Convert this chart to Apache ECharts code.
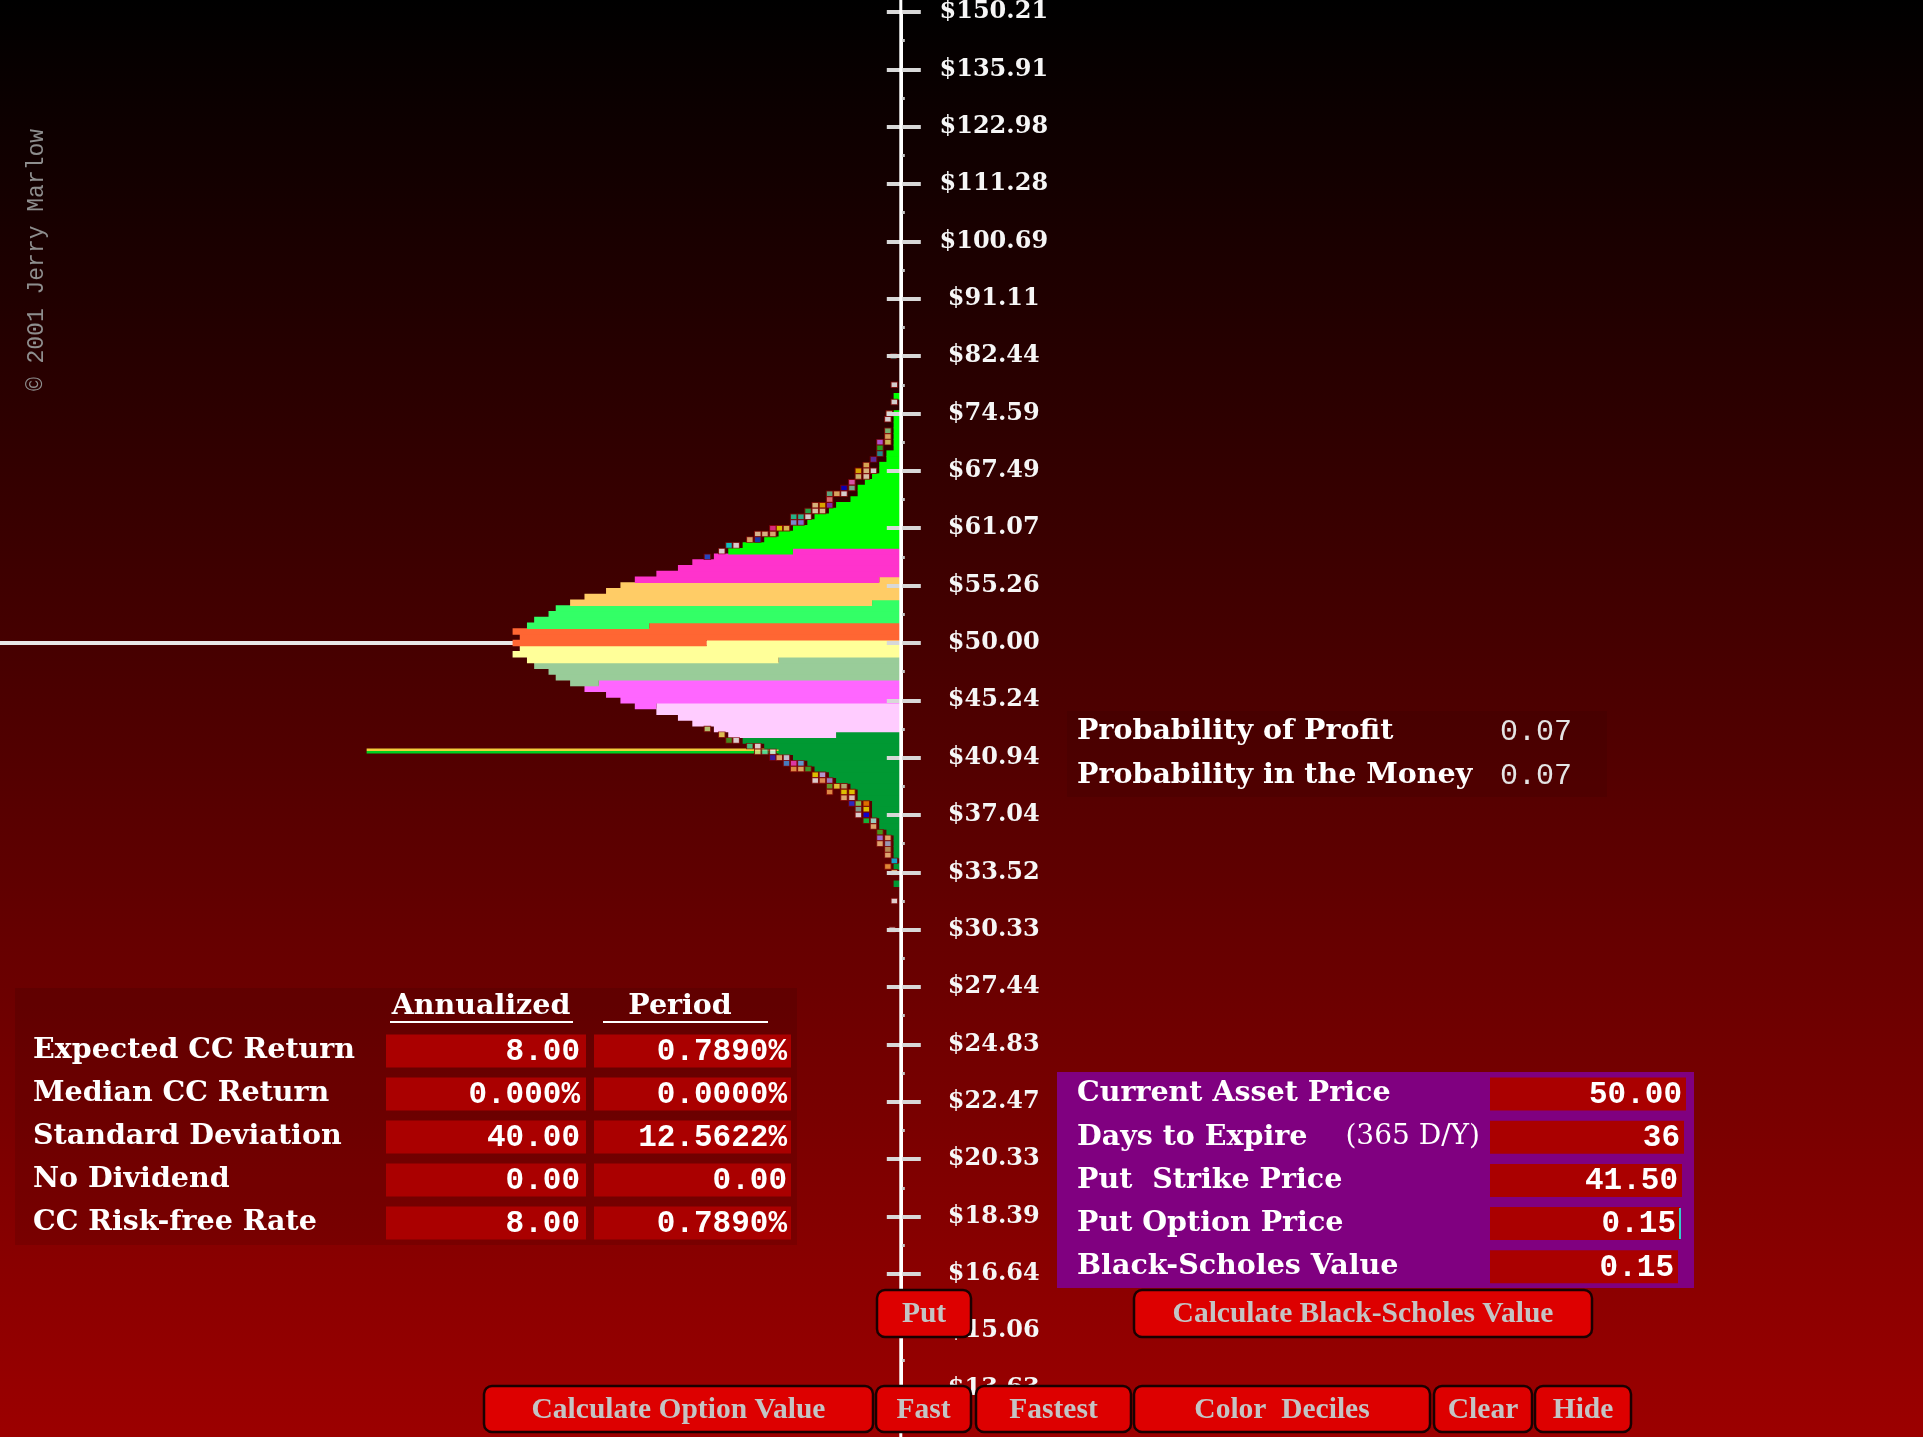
<!DOCTYPE html>
<html>
<head>
<meta charset="utf-8">
<title>Put option - lognormal price distribution</title>
<script src="https://cdn.jsdelivr.net/npm/echarts@6/dist/echarts.min.js"></script>
<style>
html,body{margin:0;padding:0;background:#000;overflow:hidden}
#chart{width:1923px;height:1437px}
</style>
</head>
<body>
<div id="chart"></div>
<script>
// ================= data =================
const spotPrice = 50.00;
const strikePrice = 41.50;
const axisMinReturn = -1.3;          // log-return range of the labelled price axis
const axisMaxReturn = 1.1;
const axisLineMin = -1.5;            // the axis line itself runs past the labelled range
const axisLineMax = 1.2;
const tickStep = 0.1;
const tickLabelStart = -1.3;
const tickLabels = ['$13.63','$15.06','$16.64','$18.39','$20.33','$22.47','$24.83','$27.44',
  '$30.33','$33.52','$37.04','$40.94','$45.24','$50.00','$55.26','$61.07','$67.49','$74.59',
  '$82.44','$91.11','$100.69','$111.28','$122.98','$135.91','$150.21'];

const binStep = 0.01;                // one histogram row = 0.01 of log-return
// bar lengths (count units) for rows k = 0,1,2,... above $50
const upperBins = [54,53,54,52,51,49,48,46,44,41,39,37,34,31,29,26,24,22,19,17,15,13,12,10,9,7,
  6,6,5,4,3,3,2,2,1,1,1,1,1,1,1,0,0,1];
// bar lengths for rows k = -1,-2,-3,... below $50
const lowerBins = [53,54,52,51,49,48,46,44,41,39,37,34,31,29,26,24,22,19,17,15,13,12,10,9,7,
  6,6,4,4,4,3,3,2,1,1,1,1,0,1,0,0,1];
const decileNames = ['Decile 1','Decile 2','Decile 3','Decile 4','Decile 5','Decile 6','Decile 7','Decile 8','Decile 9','Decile 10'];
const decileColors = ['#009933','#ffccff','#ff66ff','#99cc99','#ffff99','#ff6633','#33ff66','#ffcc66','#ff33cc','#00ff00'];
// [row k where two deciles meet, units of the lower decile in that row]
const decileSplits = [[-16,9],[-11,34],[-7,42],[-3,17],[0,27],[3,35],[7,4],[11,3],[16,15]];

// individual sample squares in the tails: [count position, row k]
const tailMarkers = [
  [0.9,45],[0.9,42],[1.6,40],[1.8,39],[1.8,37],[1.8,36],[1.8,35],[2.9,35],[2.9,34],[2.9,33],
  [3.8,32],[3.8,30],[4.8,31],[4.8,30],[4.8,29],[5.9,30],[5.9,29],[6.8,28],[6.8,27],[7.9,27],
  [7.9,26],[8.9,26],[9.9,26],[9.9,25],[9.9,24],[10.9,24],[11.9,24],[10.9,23],[11.9,23],[12.9,23],
  [12.9,22],[13.9,22],[14.9,22],[13.9,21],[14.9,21],[15.9,20],[16.9,20],[17.8,20],[17.8,19],[18.9,19],
  [19.9,19],[19.9,18],[21.0,18],[22.9,17],[23.9,17],[24.9,16],[26.9,15],[1.0,50],
  [26.9,-15],[24.9,-16],[23.9,-17],[22.9,-17],[21.0,-18],[19.9,-18],[19.9,-19],[18.9,-19],[17.8,-19],
  [17.8,-20],[16.9,-20],[15.9,-20],[15.9,-21],[14.9,-21],[13.9,-21],[14.9,-22],[13.9,-22],[12.9,-22],
  [11.9,-23],[10.9,-23],[11.9,-24],[10.9,-24],[9.9,-24],[9.9,-25],[8.9,-25],[7.9,-25],[9.9,-26],
  [7.9,-26],[6.8,-26],[7.9,-27],[6.8,-27],[6.8,-28],[5.9,-28],[4.8,-28],[4.8,-29],[5.9,-29],
  [4.8,-30],[5.9,-30],[3.8,-31],[4.8,-31],[3.8,-32],[2.9,-33],[2.9,-34],[1.8,-34],[2.9,-35],
  [1.8,-35],[1.8,-36],[1.8,-37],[0.9,-38],[1.8,-39],[0.9,-40],[0.9,-45],[1.2,-50]
];
const tailMarkerColors = [
  '#ffffff','#ffffff','#ffe8c0','#ffffff','#88dd88','#ffcc77','#eedd66','#cc66ff','#22cc22','#22aaaa',
  '#6633bb','#ffffff','#ffcc66','#ffdd99','#ffeecc','#ffcc00','#eedd88','#ff66cc','#88ccaa','#0000dd',
  '#ffffff','#ffcc77','#66cc99','#ff8888','#9933cc','#ffcc00','#ffdd99','#ffe0b0','#fff0d0','#22cc55',
  '#ffffff','#22ddaa','#22ddaa','#8888ff','#88aaff','#ffdd66','#ffee00','#ff3399','#ffcc88','#ffd8a0',
  '#ffe0b0','#1144cc','#ffcc88','#ffffff','#00eeee','#ffffff','#2255ee','#33cccc',
  '#ccee88','#ffee66','#44aa22','#ffffff','#44ee99','#ffffff','#eedd88','#66ddaa','#eeeeee',
  '#3322cc','#ffcc88','#ddeeff','#4499ee','#ff44cc','#66bbff','#ffaa55','#ffcc77','#33bb33',
  '#ffee00','#ccbbff','#ffffff','#ffaa66','#aa99ee','#66bb33','#ffee44','#cccc88','#ffaa55',
  '#ffee00','#ffee00','#ffcc88','#ffeedd','#2233ee','#88ee66','#ff8800','#ffee00','#88bbaa',
  '#0000ff','#ffffff','#aaffee','#00dd44','#ffcc88','#44bb22','#aa88ff','#ffcc88','#ffcc88',
  '#aabbdd','#ccaa66','#ffcc88','#00ccff','#ffaa44','#ffcc88','#ffffff','#dddddd'
];
const countMax = 125.3;              // count units across the plot width
const strikeLineFrom = 74.3;         // count units where the strike line starts / ends
const strikeLineTo = -2.3;

const tableHeaders = ['Annualized', 'Period'];
const tableRows = [
  ['Expected CC Return', '8.00', '0.7890%'],
  ['Median CC Return', '0.000%', '0.0000%'],
  ['Standard Deviation', '40.00', '12.5622%'],
  ['No Dividend', '0.00', '0.00'],
  ['CC Risk-free Rate', '8.00', '0.7890%']
];
const probabilityRows = [['Probability of Profit', '0.07'], ['Probability in the Money', '0.07']];
const inputRows = [
  ['Current Asset Price', '', '50.00'],
  ['Days to Expire', '(365 D/Y)', '36'],
  ['Put  Strike Price', '', '41.50'],
  ['Put Option Price', '', '0.15'],
  ['Black-Scholes Value', '', '0.15']
];
const buttonLabels = ['Put', 'Calculate Black-Scholes Value', 'Calculate Option Value', 'Fast',
  'Fastest', 'Color  Deciles', 'Clear', 'Hide'];
const copyrightText = '\u00A9 2001 Jerry Marlow';

// ================= build series data =================
const kMin = Math.round(axisMinReturn / binStep);
const kMax = Math.round(axisMaxReturn / binStep);
const rowKeys = [];
for (let k = kMin; k <= kMax; k++) rowKeys.push(String(k));
function rowTotal(k) {
  if (k >= 0) return upperBins[k] || 0;
  return lowerBins[-k - 1] || 0;
}
const decileData = decileColors.map(() => rowKeys.map(() => null));
rowKeys.forEach((key, i) => {
  const k = kMin + i;
  const total = rowTotal(k);
  if (!total) return;
  const b = decileSplits.findIndex(s => s[0] === k);
  if (b >= 0) {
    const low = Math.min(decileSplits[b][1], total);
    decileData[b][i] = low;
    decileData[b + 1][i] = total - low;
  } else {
    let d = 0;
    decileSplits.forEach(s => { if (k > s[0]) d++; });
    decileData[d][i] = total;
  }
});
const strikeReturn = Math.log(strikePrice / spotPrice);

const series = decileColors.map((c, d) => ({
  name: decileNames[d], type: 'bar', stack: 'hist', xAxisIndex: 0, yAxisIndex: 2,
  data: decileData[d], barWidth: 6.5, silent: true, z: 3, large: false,
  itemStyle: { color: c, borderWidth: 0 }
}));
series.push({
  name: 'Axis line', type: 'line', xAxisIndex: 0, yAxisIndex: 0, z: 9, silent: true, clip: false,
  symbol: 'none', data: [[0, axisLineMax], [0, axisLineMin]],
  lineStyle: { color: '#ffffff', width: 3 }
});
series.push({
  name: 'Current price', type: 'line', xAxisIndex: 0, yAxisIndex: 0, z: 1, silent: true,
  symbol: 'none', data: [[countMax, 0], [0, 0]],
  lineStyle: { color: '#e8e8e8', width: 4 }
});
series.push({
  name: 'Strike', type: 'line', xAxisIndex: 0, yAxisIndex: 0, z: 1, silent: true, clip: false,
  symbol: 'none', data: [[strikeLineFrom, strikeReturn], [strikeLineTo, strikeReturn]],
  lineStyle: { color: '#f2cc3a', width: 2.5, shadowColor: '#00d020', shadowBlur: 0, shadowOffsetY: 2.5 }
});
series.push({
  name: 'Samples', type: 'scatter', xAxisIndex: 0, yAxisIndex: 0, z: 4, silent: true,
  symbol: 'rect', symbolSize: [6.5, 5.5],
  data: tailMarkers.map(m => [m[0], m[1] * binStep]),
  itemStyle: { color: p => tailMarkerColors[p.dataIndex], borderColor: '#7a0000', borderWidth: 1 }
});

// ================= page furniture (graphic) =================
const F_LBL = 'bold 28.5px "DejaVu Serif"';
const F_REG = '28px "DejaVu Serif"';
const F_VAL = 'bold 31px "Liberation Mono"';
const F_PVAL = '30px "Liberation Mono"';
const F_BTN = 'bold 29.5px "Liberation Serif"';
const F_CPY = '23px "Liberation Mono"';
function txt(text, x, y, font, fill, align, extra) {
  return Object.assign({
    type: 'text', x: x, y: y, z: 120, silent: true,
    style: { text: text, font: font, fill: fill, textAlign: align || 'left', align: align || 'left',
      textVerticalAlign: 'middle', verticalAlign: 'middle' }
  }, extra || {});
}
function rect(x, y, w, h, fill, z, r, stroke, lw) {
  return { type: 'rect', z: z || 110, silent: true, shape: { x: x, y: y, width: w, height: h, r: r || 0 },
    style: { fill: fill, stroke: stroke || null, lineWidth: lw || 0 } };
}
const G = [];
// copyright
G.push(txt(copyrightText, 37, 260, F_CPY, '#8e8e8e', 'center', { rotation: Math.PI / 2 }));
// left table
G.push(rect(15, 988, 782, 257, 'rgba(0,0,0,0.10)', 105));
G.push(txt(tableHeaders[0], 481, 1007, F_LBL, '#ffffff', 'center'));
G.push(txt(tableHeaders[1], 680, 1007, F_LBL, '#ffffff', 'center'));
G.push(rect(390, 1021, 183, 2, '#ffffff', 121));
G.push(rect(603, 1021, 165, 2, '#ffffff', 121));
tableRows.forEach((row, i) => {
  const y = 1051 + i * 43;
  G.push(rect(386, y - 16.5, 200, 33, '#aa0000', 111));
  G.push(rect(594, y - 16.5, 197, 33, '#aa0000', 111));
  G.push(txt(row[0], 33, y, F_LBL, '#ffffff', 'left'));
  G.push(txt(row[1], 580, y + 1, F_VAL, '#ffffff', 'right'));
  G.push(txt(row[2], 787, y + 1, F_VAL, '#ffffff', 'right'));
});
// probability box
G.push(rect(1067, 711, 540, 86, 'rgba(0,0,0,0.07)', 105));
probabilityRows.forEach((row, i) => {
  const y = 732 + i * 44;
  G.push(txt(row[0], 1077, y, F_LBL, '#ffffff', 'left'));
  G.push(txt(row[1], 1500, y, F_PVAL, '#e4e4e4', 'left'));
});
// purple input box
G.push(rect(1057, 1072, 637, 216, '#800080', 108));
inputRows.forEach((row, i) => {
  const y = 1094 + i * 43.2;
  G.push(rect(1490, y - 16.5, 196 - i * 2, 33, '#aa0000', 111));
  G.push(txt(row[0], 1077, y, F_LBL, '#ffffff', 'left'));
  if (row[1]) G.push(txt(row[1], 1480, y, F_REG, '#ffffff', 'right'));
  G.push(txt(row[2], 1682 - i * 2, y + 1, F_VAL, '#ffffff', 'right'));
});
G.push(rect(1679, 1208, 2, 31, '#33cccc', 125));
// buttons
const buttonBoxes = [[877,1290,94,47],[1134,1290,458,47],[484,1386,389,46],[876,1386,95,46],
  [976,1386,155,46],[1134,1386,296,46],[1434,1386,98,46],[1535,1386,96,46]];
buttonLabels.forEach((label, i) => {
  const b = buttonBoxes[i];
  G.push(rect(b[0], b[1], b[2], b[3], '#dd0000', 130, 8, '#1a0000', 2.5));
  G.push(txt(label, b[0] + b[2] / 2, b[1] + b[3] / 2 + 1, F_BTN, '#c4c4c4', 'center', { z: 131 }));
});

// ================= chart =================
const valueAxisBase = {
  type: 'value', min: axisMinReturn, max: axisMaxReturn, interval: tickStep,
  position: 'right', splitLine: { show: false }, z: 8
};
const option = {
  animation: false,
  backgroundColor: { type: 'linear', x: 0, y: 0, x2: 0, y2: 1,
    colorStops: [{ offset: 0, color: '#000000' }, { offset: 1, color: '#9c0000' }] },
  grid: { left: 0, right: 1022.2, top: 8.5, bottom: 48.5, containLabel: false },
  xAxis: { type: 'value', min: 0, max: countMax, inverse: true, show: false },
  yAxis: [
    Object.assign({}, valueAxisBase, {
      axisLine: { show: true, onZero: false, lineStyle: { color: '#ffffff', width: 3 } },
      axisTick: { show: true, inside: false, length: 20, lineStyle: { color: '#d8d8d8', width: 4 } },
      minorTick: { show: true, splitNumber: 2, length: 4, lineStyle: { color: '#c8c8c8', width: 3 } },
      axisLabel: {
        show: true, margin: 93, align: 'center', color: '#f6f6f6',
        fontFamily: 'DejaVu Serif', fontWeight: 'bold', fontSize: 24,
        formatter: function (v) {
          const i = Math.round((v - tickLabelStart) / tickStep);
          return (i >= 0 && i < tickLabels.length) ? tickLabels[i] : '';
        }
      }
    }),
    Object.assign({}, valueAxisBase, {
      axisLine: { show: false, onZero: false },
      axisTick: { show: true, inside: true, length: 14, lineStyle: { color: '#d8d8d8', width: 4 } },
      axisLabel: { show: false }
    }),
    { type: 'category', data: rowKeys, boundaryGap: false, show: false, position: 'left',
      axisLine: { onZero: false } }
  ],
  series: series,
  graphic: { elements: G }
};
const chart = echarts.init(document.getElementById('chart'), null, { width: 1923, height: 1437 });
chart.setOption(option);
</script>
</body>
</html>
